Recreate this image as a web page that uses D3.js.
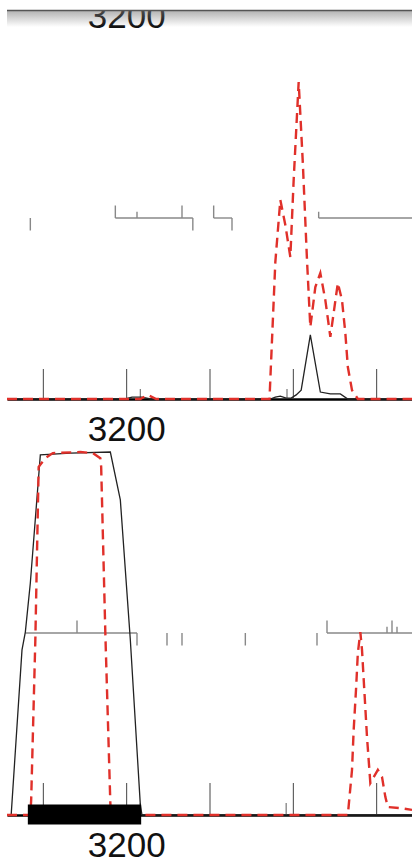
<!DOCTYPE html>
<html>
<head>
<meta charset="utf-8">
<script src="https://cdn.jsdelivr.net/npm/d3@7"></script>
<style>
  body { margin: 0; background: #fff; }
  svg { display: block; font-family: "Liberation Sans", Arial, sans-serif; }
</style>
</head>
<body>
<div id="chart"></div>
<script>
// genomic window and axis ticks (bp)
const domainBp = [3057, 3543];
const majorTicks = [3100, 3200, 3300, 3400, 3500];
const labelledTicks = [3200];

// small variant-like markers on the baseline
const topMarkers = [3217, 3393];
const bottomMarkers = [3217, 3392];

// coverage tracks, top panel
const topSolidPos = [3057, 3199, 3207, 3219, 3229, 3373, 3379, 3385, 3392, 3398, 3404, 3410, 3421, 3433, 3445, 3457, 3466, 3543];
const topSolidVal = [0, 0, 0.6, 0.6, 0, 0, 0.6, 0.9, 0.3, 0.3, 1.3, 2.8, 20.2, 2.2, 1.6, 1.6, 0, 0];
const topDashPos = [3057, 3217, 3226, 3236, 3372, 3379, 3385, 3391, 3397, 3401, 3407, 3412, 3417, 3421, 3427, 3433, 3439, 3445, 3454, 3459, 3463, 3466, 3471, 3478, 3543];
const topDashVal = [0, 0, 1.3, 0, 0, 43.2, 62.8, 54.9, 44.8, 69.1, 100, 74.4, 43.8, 22.7, 35.3, 39.7, 31.2, 19.6, 36.6, 31.2, 20.8, 10.1, 2.8, 0, 0];

// coverage tracks, bottom panel
const botSolidPos = [3057, 3062, 3075, 3079, 3085, 3097, 3133, 3181, 3193, 3205, 3217, 3219, 3543];
const botSolidVal = [0, 0, 45.5, 50.4, 63.9, 99.2, 99.7, 100, 86.8, 48.2, 2.8, 0, 0];
const botDashPos = [3057, 3085, 3086, 3091, 3095, 3103, 3112, 3145, 3160, 3169, 3170, 3175, 3181, 3182, 3466, 3471, 3473, 3476, 3478, 3481, 3483, 3489, 3493, 3502, 3507, 3511, 3514, 3529, 3543];
const botDashVal = [0, 0, 4.1, 48.2, 95.9, 98.3, 99.7, 100, 99.7, 98.3, 95.9, 50.1, 3.3, 0, 0, 12.4, 23.4, 35.3, 44.6, 50.4, 45.5, 21.5, 8.8, 12.4, 10.5, 5.0, 2.2, 1.9, 1.4];

// split-read style track on the mid line: spans plus signed ticks
const topSpans = [[3187, 3280], [3305, 3327], [3431, 3543]];
const topJunctionPos = [3085, 3187, 3213, 3267, 3280, 3305, 3327, 3431];
const topJunctionVal = [-2, 2, 1, 2, -2, 2, -2, 1];
const botSpans = [[3079, 3213], [3441, 3543]];
const botJunctionPos = [3141, 3213, 3249, 3267, 3343, 3429, 3441, 3513, 3519, 3525];
const botJunctionVal = [2, -2, -2, -2, -2, -2, 2, 1, 2, 1];

// feature block on bottom panel
const botFeatures = [[3082, 3218]];

const width = 412;
const height = 860;

const svg = d3.select("#chart").append("svg")
  .attr("width", width)
  .attr("height", height);

const x = d3.scaleLinear().domain(domainBp).range([7, 412]);

const zip = (p, v) => p.map((d, i) => ({ pos: d, val: v[i] }));

function drawPanel(cfg) {
  const g = svg.append("g");
  const y = d3.scaleLinear().domain([0, 100]).range([cfg.base, cfg.top]);

  const axis = d3.axisBottom(x)
    .tickValues(majorTicks)
    .tickSizeInner(-cfg.tickLen)
    .tickSizeOuter(0)
    .tickPadding(17)
    .tickFormat((d) => (labelledTicks.includes(d) ? String(d) : ""));

  const ax = g.append("g")
    .attr("transform", `translate(0,${cfg.base})`)
    .call(axis);
  ax.select(".domain").attr("stroke", "#000").attr("stroke-width", 2.6);
  ax.selectAll(".tick line").attr("stroke", "#444").attr("stroke-width", 1);
  ax.selectAll(".tick text")
    .attr("fill", "#111")
    .style("font-size", "35px")
    .style("font-family", "'Liberation Sans', Arial, sans-serif");

  if (!cfg.solid) return;

  // mid line track
  const yj = d3.scaleLinear().domain([-2, 2]).range([cfg.mid + 12.5, cfg.mid - 12.5]);
  g.selectAll(".span")
    .data(cfg.spans)
    .enter()
    .append("line")
    .attr("x1", (d) => x(d[0]))
    .attr("x2", (d) => x(d[1]))
    .attr("y1", cfg.mid)
    .attr("y2", cfg.mid)
    .attr("stroke", "#888")
    .attr("stroke-width", 1.4);
  g.selectAll(".junction")
    .data(cfg.junctions)
    .enter()
    .append("line")
    .attr("x1", (d) => x(d.pos))
    .attr("x2", (d) => x(d.pos))
    .attr("y1", yj(0))
    .attr("y2", (d) => yj(d.val))
    .attr("stroke", "#888")
    .attr("stroke-width", 1.4);

  // baseline markers
  g.selectAll(".marker")
    .data(cfg.markers)
    .enter()
    .append("line")
    .attr("x1", (d) => x(d))
    .attr("x2", (d) => x(d))
    .attr("y1", cfg.base)
    .attr("y2", cfg.base - cfg.markerLen)
    .attr("stroke", "#777")
    .attr("stroke-width", 1.2);

  const line = d3.line()
    .x((d) => x(d.pos))
    .y((d) => y(d.val));

  g.append("path")
    .datum(cfg.solid)
    .attr("d", line)
    .attr("fill", "none")
    .attr("stroke", "#222")
    .attr("stroke-width", 1.3);

  g.append("path")
    .datum(cfg.dashed)
    .attr("d", line)
    .attr("fill", "none")
    .attr("stroke", "#e0302a")
    .attr("stroke-width", 2.4)
    .attr("stroke-dasharray", "10,6");

  g.selectAll(".feature")
    .data(cfg.features || [])
    .enter()
    .append("rect")
    .attr("x", (d) => x(d[0]))
    .attr("width", (d) => x(d[1]) - x(d[0]))
    .attr("y", cfg.base - 10.5)
    .attr("height", 20)
    .attr("fill", "#000");
}

// panel scrolled off above: only its label remains visible
drawPanel({ base: -14, top: -300, tickLen: 30 });

drawPanel({
  base: 399, top: 82, mid: 218, tickLen: 30, markerLen: 10,
  markers: topMarkers,
  solid: zip(topSolidPos, topSolidVal),
  dashed: zip(topDashPos, topDashVal),
  spans: topSpans,
  junctions: zip(topJunctionPos, topJunctionVal),
});

drawPanel({
  base: 815, top: 452, mid: 633, tickLen: 32, markerLen: 12,
  markers: bottomMarkers,
  solid: zip(botSolidPos, botSolidVal),
  dashed: zip(botDashPos, botDashVal),
  spans: botSpans,
  junctions: zip(botJunctionPos, botJunctionVal),
  features: botFeatures,
});

// sticky header with drop shadow
const defs = svg.append("defs");
const grad = defs.append("linearGradient")
  .attr("id", "shadow")
  .attr("x1", 0).attr("x2", 0).attr("y1", 0).attr("y2", 1);
grad.append("stop").attr("offset", "0%").attr("stop-color", "#777").attr("stop-opacity", 0.55);
grad.append("stop").attr("offset", "100%").attr("stop-color", "#777").attr("stop-opacity", 0);

svg.append("rect").attr("x", 0).attr("y", 0).attr("width", width).attr("height", 10).attr("fill", "#fff");
svg.append("rect").attr("x", 7).attr("y", 11).attr("width", width - 7).attr("height", 16).attr("fill", "url(#shadow)");
svg.append("line")
  .attr("x1", 7).attr("x2", width)
  .attr("y1", 10.5).attr("y2", 10.5)
  .attr("stroke", "#555")
  .attr("stroke-width", 1.5);
</script>
</body>
</html>
